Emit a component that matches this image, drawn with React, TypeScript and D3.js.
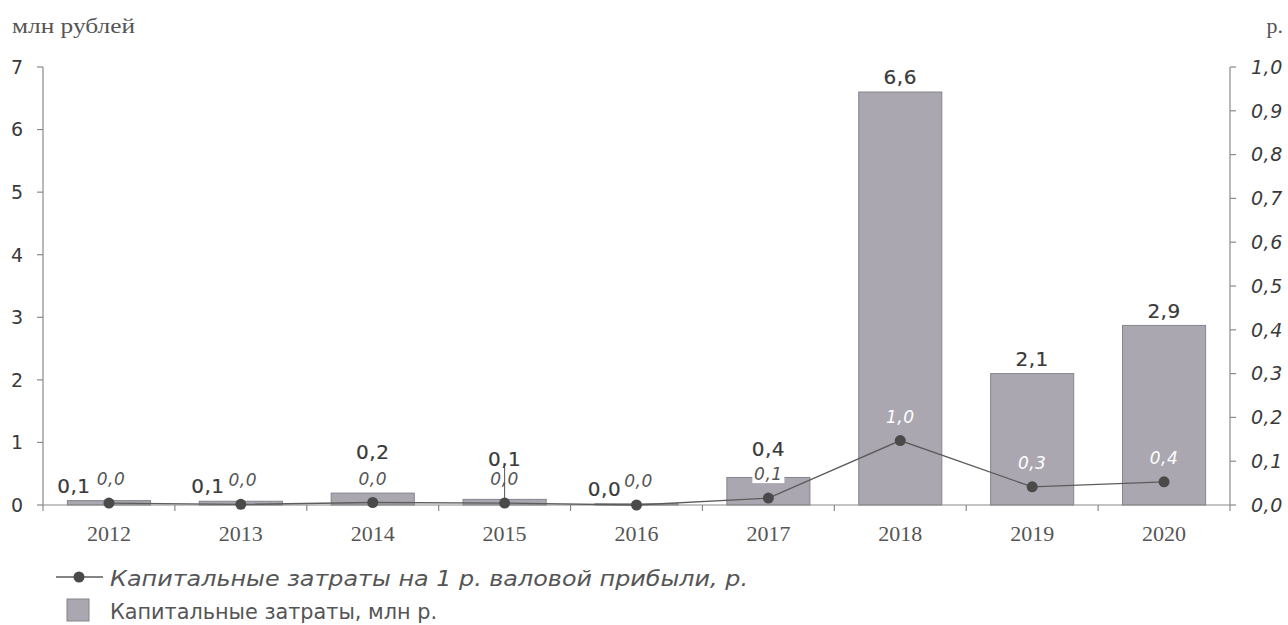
import React from "react";
import * as d3 from "d3";

// Годы и значения показателей
const years = ["2012", "2013", "2014", "2015", "2016", "2017", "2018", "2019", "2020"];
// Капитальные затраты, млн р.
const capex = [0.07, 0.06, 0.19, 0.09, 0.02, 0.44, 6.6, 2.1, 2.87];
// Капитальные затраты на 1 р. валовой прибыли, р.
const capexPerRuble = [0.03, 0.01, 0.04, 0.03, 0.0, 0.11, 1.03, 0.29, 0.37];
const leftTicks = [0, 1, 2, 3, 4, 5, 6, 7];
const rightTicks = [0, 0.1, 0.2, 0.3, 0.4, 0.5, 0.6, 0.7, 0.8, 0.9, 1.0];

const leftUnit = "млн рублей";
const rightUnit = "р.";
const legendLine = "Капитальные затраты на 1 р. валовой прибыли, р.";
const legendBar = "Капитальные затраты, млн р.";

// Смещения подписей столбцов (чтобы не перекрывать подписи линии)
const barLabelShift: [number, number][] = [
  [-35, 0], [-33, 0], [0, -26], [0, -26], [-32, 0], [0, -14], [0, 0], [0, 0], [0, 0],
];

const W = 1288;
const H = 625;
const left = 43;
const right = 1230;
const top = 67;
const bottom = 505;

const fmt = (v: number) => d3.format(".1f")(v).replace(".", ",");

const sans = "'DejaVu Sans', Verdana, sans-serif";
const serif = "'Liberation Serif', 'Times New Roman', serif";

export default function App() {
  const x = d3.scaleBand<string>().domain(years).range([left, right]).paddingInner(0.37).paddingOuter(0.185);
  const step = x.step();
  const yL = d3.scaleLinear().domain([0, 7]).range([bottom, top]);
  const yR = d3.scaleLinear().domain([0, 1]).range([bottom, top]);
  const cx = (d: string) => (x(d) as number) + x.bandwidth() / 2;

  const linePath = d3
    .line<number>()
    .x((_, i) => cx(years[i]))
    .y((v) => yL(v))(capexPerRuble) as string;

  const axisColor = "#8a8a8a";
  const textColor = "#3a3a3a";

  return (
    <svg width={W} height={H} style={{ position: "absolute", left: 0, top: 0, background: "#fff" }}>
      {/* подписи единиц измерения */}
      <text x={12} y={33} fontFamily={serif} fontSize={22} textLength={123} lengthAdjust="spacingAndGlyphs" fill="#555">
        {leftUnit}
      </text>
      <text x={1283} y={33} textAnchor="end" fontFamily={serif} fontSize={22} fill="#555">{rightUnit}</text>

      {/* столбцы */}
      {years.map((yr, i) => (
        <rect
          key={"b" + yr}
          x={x(yr)}
          y={yL(capex[i])}
          width={x.bandwidth()}
          height={bottom - yL(capex[i])}
          fill="#aba7b1"
          stroke="#86848c"
          strokeWidth={1}
        />
      ))}

      {/* левая ось */}
      <line x1={left} x2={left} y1={top} y2={bottom} stroke={axisColor} strokeWidth={1.2} />
      {leftTicks.map((t) => (
        <g key={"l" + t}>
          <line x1={left - 6} x2={left} y1={yL(t)} y2={yL(t)} stroke={axisColor} strokeWidth={1.2} />
          <text x={23} y={yL(t)} dy="0.36em" textAnchor="end" fontFamily={sans} fontSize={19} fill={textColor}>
            {t}
          </text>
        </g>
      ))}

      {/* правая ось */}
      <line x1={right} x2={right} y1={top} y2={bottom} stroke={axisColor} strokeWidth={1.2} />
      {rightTicks.map((t) => (
        <g key={"r" + t}>
          <line x1={right} x2={right + 6} y1={yR(t)} y2={yR(t)} stroke={axisColor} strokeWidth={1.2} />
          <text
            x={1251}
            y={yR(t)}
            dy="0.36em"
            fontFamily={sans}
            fontStyle="italic"
            fontSize={19}
            letterSpacing={0.5}
            fill={textColor}
          >
            {fmt(t)}
          </text>
        </g>
      ))}

      {/* ось категорий */}
      <line x1={left} x2={right} y1={bottom} y2={bottom} stroke={axisColor} strokeWidth={1.2} />
      {d3.range(0, years.length + 1).map((i) => (
        <line
          key={"t" + i}
          x1={left + i * step}
          x2={left + i * step}
          y1={bottom}
          y2={bottom + 6}
          stroke={axisColor}
          strokeWidth={1.2}
        />
      ))}
      {years.map((yr) => (
        <text key={"x" + yr} x={cx(yr)} y={541} textAnchor="middle" fontFamily={serif} fontSize={22} fill="#555">
          {yr}
        </text>
      ))}

      {/* выноска для 2015 */}
      <line x1={cx("2015")} x2={cx("2015")} y1={467} y2={bottom} stroke="#555" strokeWidth={1} />

      {/* линия показателя */}
      <path d={linePath} fill="none" stroke="#5c5c5c" strokeWidth={1.4} />
      {years.map((yr, i) => (
        <circle key={"p" + yr} cx={cx(yr)} cy={yL(capexPerRuble[i])} r={5.5} fill="#4a4a4a" />
      ))}

      {/* подписи столбцов */}
      {years.map((yr, i) => (
        <text
          key={"bl" + yr}
          x={cx(yr) + barLabelShift[i][0]}
          y={yL(capex[i]) - 15 + barLabelShift[i][1]}
          dy="0.36em"
          textAnchor="middle"
          fontFamily={sans}
          fontSize={20}
          letterSpacing={0.5}
          stroke={textColor}
          strokeWidth={0.2}
          fill={textColor}
        >
          {fmt(capex[i])}
        </text>
      ))}

      {/* подписи линии */}
      {years.map((yr, i) => {
        const onBar = capex[i] > 1;
        const boxed = yr === "2017";
        const ly = yL(capexPerRuble[i]) - 24;
        return (
          <g key={"ll" + yr}>
            {boxed && <rect x={cx(yr) - 16} y={ly - 9} width={32} height={18} fill="#fff" />}
            <text
              x={cx(yr) + (i < 2 || yr === "2016" ? 2 : 0)}
              y={ly}
              dy="0.36em"
              textAnchor="middle"
              fontFamily={sans}
              fontStyle="italic"
              fontSize={17}
              letterSpacing={0.5}
              fill={onBar ? "#ffffff" : "#555"}
            >
              {fmt(capexPerRuble[i])}
            </text>
          </g>
        );
      })}

      {/* легенда */}
      <line x1={56} x2={103} y1={577} y2={577} stroke="#5c5c5c" strokeWidth={1.4} />
      <circle cx={79} cy={577} r={5.5} fill="#4a4a4a" />
      <text
        x={110}
        y={578}
        dy="0.36em"
        fontFamily={sans}
        fontStyle="italic"
        fontSize={22}
        textLength={638}
        lengthAdjust="spacingAndGlyphs"
        fill="#555"
      >
        {legendLine}
      </text>
      <rect x={67} y={599} width={22} height={22} fill="#aba7b1" stroke="#86848c" strokeWidth={1} />
      <text
        x={110}
        y={611}
        dy="0.36em"
        fontFamily={sans}
        fontSize={22}
        textLength={327}
        lengthAdjust="spacingAndGlyphs"
        fill="#555"
      >
        {legendBar}
      </text>
    </svg>
  );
}
